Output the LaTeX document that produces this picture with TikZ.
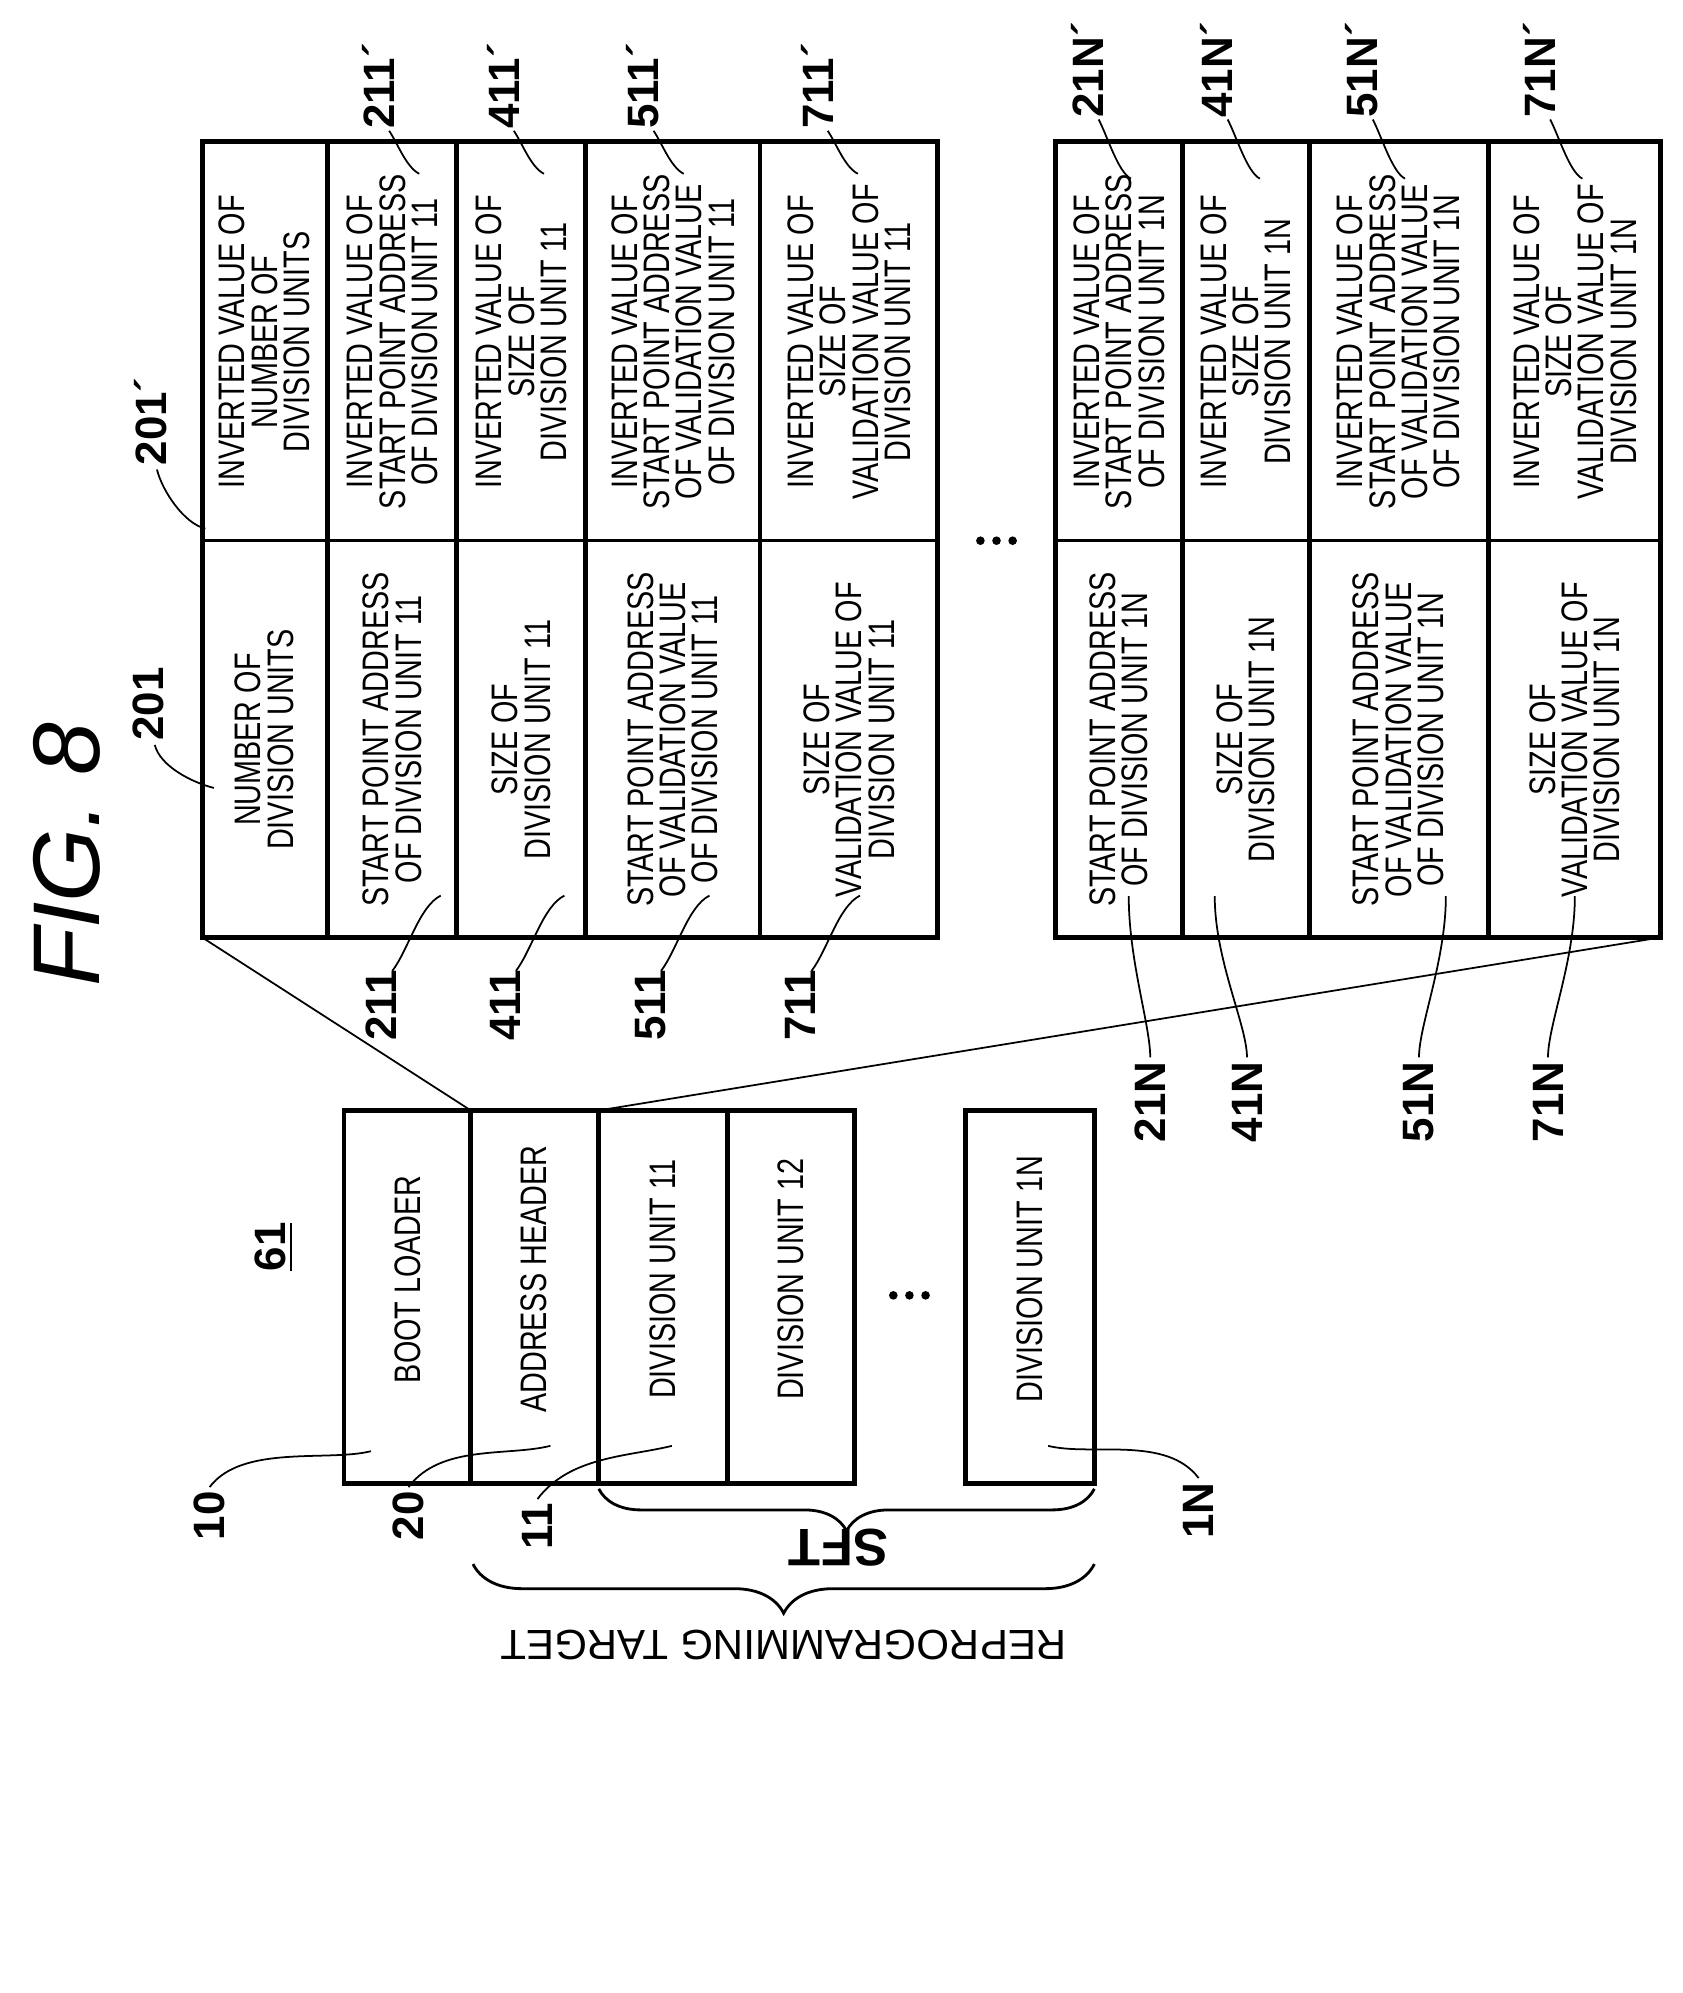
\documentclass[tikz,border=0pt]{standalone}
\usepackage{fontspec}
\setmainfont[FakeStretch=0.78]{Liberation Sans}
\newfontfamily\lab{Liberation Sans}
\usetikzlibrary{decorations.pathreplacing}
\begin{document}
\begin{tikzpicture}[x=0.01075cm,y=0.01075cm,
  box/.style={draw,line width=1.4pt},
  ct/.style={rotate=90,align=center,font=\fontsize{10.5}{9.2}\selectfont,inner sep=0pt},
  lb/.style={rotate=90,font=\lab\bfseries\fontsize{12.5}{13}\selectfont,inner sep=1pt},
  ld/.style={line width=0.5pt}]
\useasboundingbox (0,0) rectangle (1565,-1854);
\node[rotate=90,font=\lab\itshape\fontsize{27}{27}\selectfont] (fig) at (62,-795) {FIG. 8};
% main table
\foreach \a/\b in {188/305,305/425,425/545,545/707,707/872,982/1100,1100/1218,1218/1385,1385/1545}{
  \draw[box] (\a,-132) rectangle (\b,-872);
  \draw[line width=1pt] (\a,-503) -- (\b,-503);}
\node[ct] (l1) at (246,-688) {NUMBER OF\\DIVISION UNITS};
\node[ct] (l2) at (365,-688) {START POINT ADDRESS\\OF DIVISION UNIT 11};
\node[ct] (l3) at (485,-688) {SIZE OF\\DIVISION UNIT 11};
\node[ct] (l4) at (626,-688) {START POINT ADDRESS\\OF VALIDATION VALUE\\OF DIVISION UNIT 11};
\node[ct] (l5) at (790,-688) {SIZE OF\\VALIDATION VALUE OF\\DIVISION UNIT 11};
\node[ct] (r1) at (246,-318) {INVERTED VALUE OF\\NUMBER OF\\DIVISION UNITS};
\node[ct] (r2) at (365,-318) {INVERTED VALUE OF\\START POINT ADDRESS\\OF DIVISION UNIT 11};
\node[ct] (r3) at (485,-318) {INVERTED VALUE OF\\SIZE OF\\DIVISION UNIT 11};
\node[ct] (r4) at (626,-318) {INVERTED VALUE OF\\START POINT ADDRESS\\OF VALIDATION VALUE\\OF DIVISION UNIT 11};
\node[ct] (r5) at (790,-318) {INVERTED VALUE OF\\SIZE OF\\VALIDATION VALUE OF\\DIVISION UNIT 11};
\node[ct] (m2) at (1041,-688) {START POINT ADDRESS\\OF DIVISION UNIT 1N};
\node[ct] (m3) at (1159,-688) {SIZE OF\\DIVISION UNIT 1N};
\node[ct] (m4) at (1301,-688) {START POINT ADDRESS\\OF VALIDATION VALUE\\OF DIVISION UNIT 1N};
\node[ct] (m5) at (1465,-688) {SIZE OF\\VALIDATION VALUE OF\\DIVISION UNIT 1N};
\node[ct] (n2) at (1041,-318) {INVERTED VALUE OF\\START POINT ADDRESS\\OF DIVISION UNIT 1N};
\node[ct] (n3) at (1159,-318) {INVERTED VALUE OF\\SIZE OF\\DIVISION UNIT 1N};
\node[ct] (n4) at (1301,-318) {INVERTED VALUE OF\\START POINT ADDRESS\\OF VALIDATION VALUE\\OF DIVISION UNIT 1N};
\node[ct] (n5) at (1465,-318) {INVERTED VALUE OF\\SIZE OF\\VALIDATION VALUE OF\\DIVISION UNIT 1N};
\foreach \x in {912,927,942} \fill (\x,-503) circle (4);
% memory
\foreach \a/\b in {320/438,438/557,557/677,677/795,898/1018}
  \draw[box] (\a,-1033) rectangle (\b,-1380);
\node[ct] (bl) at (379,-1190) {BOOT LOADER};
\node[ct] (ah) at (497,-1190) {ADDRESS HEADER};
\node[ct] (d11) at (617,-1190) {DIVISION UNIT 11};
\node[ct] (d12) at (736,-1190) {DIVISION UNIT 12};
\node[ct] (d1n) at (958,-1190) {DIVISION UNIT 1N};
\foreach \x in {831,846,861} \fill (\x,-1205) circle (4);
\node[rotate=90,font=\lab\bfseries\fontsize{12.5}{13}\selectfont] (m61) at (255,-1160) {\underline{61}};
% zoom lines
\coordinate (t1) at (188,-872); \coordinate (t2) at (1545,-872);
\coordinate (a1) at (438,-1033); \coordinate (a2) at (557,-1033);
\draw[ld] (t1) -- (a1); \draw[ld] (t2) -- (a2);
% braces
\draw[line width=0.8pt,decorate,decoration={brace,amplitude=12pt}] (1018,-1385) -- (557,-1385);
\node[rotate=180,font=\lab\bfseries\fontsize{15}{15}\selectfont] (sft) at (780,-1440) {SFT};
\draw[line width=0.8pt,decorate,decoration={brace,amplitude=14pt}] (1018,-1455) -- (440,-1455);
\node[rotate=180,font=\lab\fontsize{12}{12}\selectfont] (rt) at (729,-1530) {REPROGRAMMING TARGET};
% top labels
\node[lb] (L201) at (138,-655) {201};
\node[lb] (L201p) at (140,-392) {201\textasciiacute};
\draw[ld] (L201.west) ++(6,0) .. controls +(5,-20) and +(-20,5) .. ++(55,-40);
\draw[ld] (L201p.west) ++(6,0) .. controls +(5,-20) and +(-20,5) .. ++(45,-55);
\foreach \n/\x/\t in {a/352/211,b/468/411,c/598/511,d/760/711}{
  \node[lb] (T\n) at (\x,-80) {\t\textasciiacute};
  \draw[ld] (T\n.west) ++(10,2) .. controls +(8,-12) and +(-12,6) .. ++(28,-40);}
\foreach \n/\x/\t in {a/1012/21N,b/1132/41N,c/1267/51N,d/1432/71N}{
  \node[lb] (U\n) at (\x,-65) {\t\textasciiacute};
  \draw[ld] (U\n.west) ++(10,2) .. controls +(8,-15) and +(-12,6) .. ++(30,-55);}
% bottom labels
\foreach \n/\x/\t in {a/355/211,b/470/411,c/605/511,d/745/711}{
  \node[lb] (B\n) at (\x,-935) {\t};
  \draw[ld] (B\n.east) ++(10,-5) .. controls +(15,20) and +(-20,-10) .. ++(45,70);}
\foreach \n/\x/\t/\dx in {a/1070/21N/-20,b/1160/41N/-30,c/1320/51N/25,d/1440/71N/25}{
  \node[lb] (C\n) at (\x,-1025) {\t};
  \draw[ld] (C\n.east) .. controls +(0,30) and +(0,-60) .. ++(\dx,150);}
\node[lb] (E10) at (195,-1410) {10};
\node[lb] (E20) at (380,-1410) {20};
\node[lb] (E11) at (500,-1420) {11};
\node[lb] (E1N) at (1115,-1405) {1N};
\draw[ld] (E10.east) .. controls +(30,40) and +(-40,-10) .. (345,-1350);
\draw[ld] (E20.east) .. controls +(30,40) and +(-40,-10) .. (512,-1345);
\draw[ld] (E11.east) .. controls +(30,40) and +(-40,-10) .. (625,-1345);
\draw[ld] (E1N.east) .. controls +(-30,40) and +(40,-10) .. (975,-1345);
\end{tikzpicture}
\end{document}
